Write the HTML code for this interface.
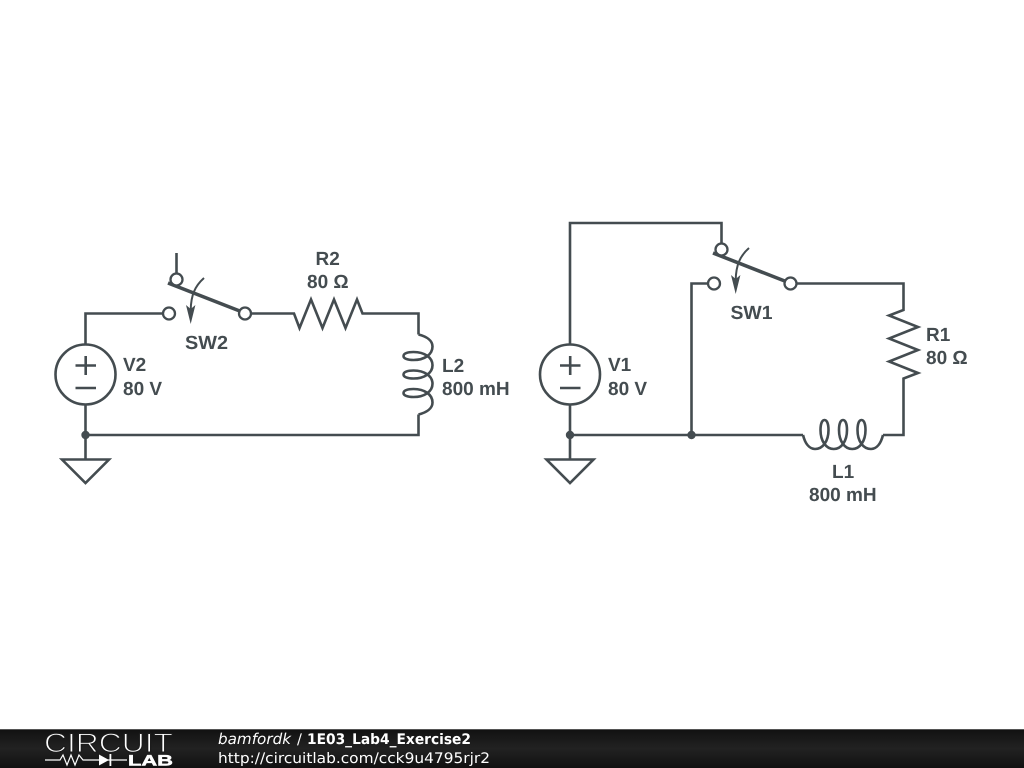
<!DOCTYPE html>
<html>
<head>
<meta charset="utf-8">
<style>
html,body{margin:0;padding:0;background:#fff;width:1024px;height:768px;overflow:hidden}
svg{display:block;text-rendering:geometricPrecision}
.w{fill:none;stroke:#444c50;stroke-width:2.6;stroke-linejoin:miter}
.t{fill:#fff;stroke:#444c50;stroke-width:2.3}
.l{font-family:"Liberation Sans",sans-serif;font-weight:bold;font-size:19px;fill:#444c50}
.f{font-family:"DejaVu Sans",sans-serif;font-size:14.5px;fill:#fff}
</style>
</head>
<body>
<svg width="1024" height="768" viewBox="0 0 1024 768" xmlns="http://www.w3.org/2000/svg">
<defs>
<linearGradient id="bar" x1="0" y1="0" x2="0" y2="1">
<stop offset="0" stop-color="#111"/><stop offset="0.5" stop-color="#222"/><stop offset="1" stop-color="#111"/>
</linearGradient>
</defs>
<rect width="1024" height="768" fill="#fff"/>

<!-- Left circuit -->
<path class="w" d="M85.5 344.5V313.5H163M176.5 253V273.5M251 313.5H294L299.5 328L311 299.5L322.5 328L334 299.5L345.5 328L357 299.5L362.5 313.5H418.5V334.5M418.5 414.5V435H85.5V459"/>
<circle class="w" cx="85.5" cy="374.5" r="30"/>
<path class="w" d="M75.5 365.5H96M85.7 356V375M75.5 388H96"/>
<path class="w" d="M62 459.5H109L85.5 483Z"/>
<circle cx="85.5" cy="435" r="4.2" fill="#444c50"/>
<path class="w" transform="matrix(0,1,1,0,418.5,374.5)" d="M-40 0C-38 8 -34 14 -28 14C-20 14 -14.5 6 -14.5 -5C-14.5 -11 -16 -15 -18.5 -15C-21 -15 -22.5 -11 -22.5 -5C-22.5 6 -17 14 -9.25 14C-1.5 14 4 6 4 -5C4 -11 2.5 -15 0 -15C-2.5 -15 -4 -11 -4 -5C-4 6 1.5 14 9.25 14C17 14 22.5 6 22.5 -5C22.5 -11 21 -15 18.5 -15C16 -15 14.5 -11 14.5 -5C14.5 6 20 14 28 14C34 14 38 8 40 0"/>
<path class="w" d="M85.5 405V435"/>
<g>
<path d="M168 283L241 311.5" fill="none" stroke="#444c50" stroke-width="3.6"/>
<circle class="t" cx="176.5" cy="279.5" r="6"/>
<circle class="t" cx="169" cy="313.5" r="6"/>
<circle class="t" cx="245" cy="313.5" r="6"/>
<path d="M204 278C195 286 191 295 190.7 310" fill="none" stroke="#444c50" stroke-width="2"/>
<path d="M186 305L190.7 309L195.4 305L190.7 324Z" fill="#444c50"/>
</g>

<!-- Right circuit -->
<path class="w" d="M570 344.5V223H721.5V243M708 283.5H691.5V435M796.5 283.5H903.5V310L889 315.5L918 327L889 338.5L918 350L889 361.5L918 373L903.5 378.5V435H883M803 435H570V459M570 405V435"/>
<circle class="w" cx="570" cy="374.5" r="30"/>
<path class="w" d="M560 365.5H580.5M570.2 356V375M560 388H580.5"/>
<path class="w" d="M546.5 459.5H593.5L570 483Z"/>
<circle cx="570" cy="435" r="4.2" fill="#444c50"/>
<circle cx="691.5" cy="435" r="4.2" fill="#444c50"/>
<path class="w" transform="translate(843,435)" d="M-40 0C-38 8 -34 14 -28 14C-20 14 -14.5 6 -14.5 -5C-14.5 -11 -16 -15 -18.5 -15C-21 -15 -22.5 -11 -22.5 -5C-22.5 6 -17 14 -9.25 14C-1.5 14 4 6 4 -5C4 -11 2.5 -15 0 -15C-2.5 -15 -4 -11 -4 -5C-4 6 1.5 14 9.25 14C17 14 22.5 6 22.5 -5C22.5 -11 21 -15 18.5 -15C16 -15 14.5 -11 14.5 -5C14.5 6 20 14 28 14C34 14 38 8 40 0"/>
<g transform="translate(545,-30)">
<path d="M168 283L241 311.5" fill="none" stroke="#444c50" stroke-width="3.6"/>
<circle class="t" cx="176.5" cy="279.5" r="6"/>
<circle class="t" cx="169" cy="313.5" r="6"/>
<circle class="t" cx="245.5" cy="313.5" r="6"/>
<path d="M204 278C195 286 191 295 190.7 310" fill="none" stroke="#444c50" stroke-width="2"/>
<path d="M186 305L190.7 309L195.4 305L190.7 324Z" fill="#444c50"/>
</g>

<!-- Labels -->
<text class="l" x="315.5" y="265">R2</text>
<text class="l" x="307" y="288">80 Ω</text>
<text class="l" x="185" y="349" textLength="43" lengthAdjust="spacingAndGlyphs">SW2</text>
<text class="l" x="123" y="371">V2</text>
<text class="l" x="123" y="395">80 V</text>
<text class="l" x="442" y="372">L2</text>
<text class="l" x="442" y="395">800 mH</text>
<text class="l" x="730.5" y="319" textLength="42" lengthAdjust="spacingAndGlyphs">SW1</text>
<text class="l" x="608" y="371">V1</text>
<text class="l" x="608" y="395">80 V</text>
<text class="l" x="926" y="341">R1</text>
<text class="l" x="926" y="364">80 Ω</text>
<text class="l" x="832" y="478">L1</text>
<text class="l" x="809" y="501">800 mH</text>

<!-- Footer -->
<rect x="0" y="729" width="1024" height="39" fill="url(#bar)"/>
<rect x="0" y="729" width="1024" height="1" fill="#555"/>
<text x="44" y="752" font-family="'Liberation Sans',sans-serif" font-size="27" fill="#fff" stroke="#1c1c1c" stroke-width="1.1" textLength="129" lengthAdjust="spacingAndGlyphs">CIRCUIT</text>
<path d="M45 760H60L63 755L67 765L71 755L75 765L79 755L83 760H127" fill="none" stroke="#fff" stroke-width="1.2"/>
<path d="M99 754.5L109 760L99 765.5Z" fill="#fff"/>
<rect x="109.5" y="754" width="1.8" height="12" fill="#fff"/>
<text x="128" y="765.5" font-family="'Liberation Sans',sans-serif" font-weight="bold" font-size="15" fill="#fff" stroke="#fff" stroke-width="0.5" textLength="45" lengthAdjust="spacingAndGlyphs">LAB</text>
<text class="f" x="218" y="744" font-style="italic" font-size="15" textLength="73" lengthAdjust="spacingAndGlyphs" style="font-size:15px">bamfordk</text>
<text class="f" x="297" y="744">/</text>
<text class="f" x="307" y="744" font-weight="bold" textLength="164" lengthAdjust="spacingAndGlyphs">1E03_Lab4_Exercise2</text>
<text class="f" x="218" y="763" textLength="272" lengthAdjust="spacingAndGlyphs">http://circuitlab.com/cck9u4795rjr2</text>
</svg>
</body>
</html>
